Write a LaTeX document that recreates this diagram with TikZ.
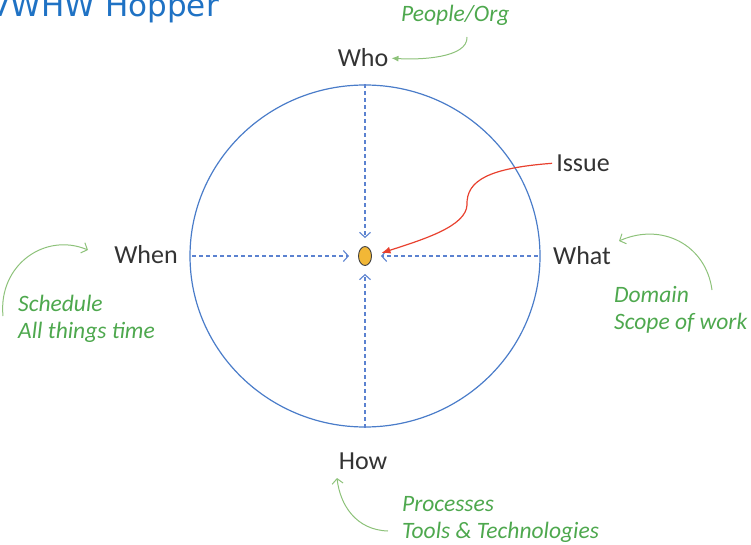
\documentclass[tikz,border=0pt]{standalone}
\usepackage{fontspec}
\setmainfont{Carlito}
\newfontfamily\titlefont{DejaVu Sans}
\usetikzlibrary{arrows.meta,shapes.geometric}

\definecolor{ringblue}{HTML}{4A7CC9}
\definecolor{dashblue}{HTML}{5B82D0}
\definecolor{labelgray}{HTML}{333333}
\definecolor{notegreen}{HTML}{4EA84E}
\definecolor{hintgreen}{HTML}{8DC27A}
\definecolor{issuered}{HTML}{E8402E}
\definecolor{dotfill}{HTML}{F2B736}
\definecolor{titleblue}{HTML}{1F72C4}

\tikzset{
  wlabel/.style={text=labelgray, font=\fontsize{26}{30}\selectfont, inner sep=0pt},
  note/.style={text=notegreen, font=\fontsize{23.5}{27}\selectfont\itshape, align=left, inner sep=0pt, anchor=west},
  probe/.style={dashblue, line width=1.1pt, dash pattern=on 4pt off 3pt, -{Straight Barb[length=5pt,width=11pt]}},
  hint/.style={hintgreen, line width=1pt},
}

\begin{document}
\begin{tikzpicture}[x=1pt,y=-1pt]
\useasboundingbox (0,0) rectangle (751,545);

\node [anchor=base east, inner sep=0pt, text=titleblue, font=\fontsize{31}{34}\titlefont] (title) at (219,17) {VWHW Hopper};

\node [draw=ringblue, line width=1.2pt, ellipse, minimum width=350, minimum height=342, inner sep=0pt] (ring) at (365,256) {};
\node [draw=black!75, line width=0.9pt, fill=dotfill, ellipse, minimum width=13, minimum height=19, inner sep=0pt] (dot) at (365,256) {};

\node [wlabel] (who)   at (363,58)  {Who};
\node [wlabel] (when)  at (146,255) {When};
\node [wlabel] (what)  at (582,256) {What};
\node [wlabel] (how)   at (363,461) {How};
\node [wlabel] (issue) at (583,163) {Issue};

\node [note] (people)  at (401,15)  {People/Org};
\node [note] (sched)   at (18,319)  {Schedule\\All things time};
\node [note] (domain)  at (614,310) {Domain\\Scope of work};
\node [note] (process) at (402,519) {Processes\\Tools \& Technologies};

% dashed probes into the issue
\draw [probe, shorten >=8pt] (ring.north) -- (dot.north);
\draw [probe, shorten >=8pt] (ring.south) -- (dot.south);
\draw [probe, shorten <=3pt, shorten >=9pt] (ring.west) -- (dot.west);
\draw [probe, shorten <=3pt, shorten >=9pt] (ring.east) -- (dot.east);

% issue pointer
\draw [issuered, line width=1.2pt, -{Latex[length=9pt,width=7pt]}, shorten <=4pt, shorten >=10pt]
  (issue.west) .. controls (490,168) and (466,180) .. (467,205)
  .. controls (466,226) and (425,239) .. (dot.east);

% green hints
\coordinate (whotail)  at (467,37);
\coordinate (whentail) at (3,316);
\coordinate (whenhead) at (88,250);
\coordinate (whattail) at (712,290);
\coordinate (whathead) at (619,241);
\coordinate (howtail)  at (388,531);
\coordinate (howhead)  at (337,478);

\draw [hint, -{Latex[length=7pt,width=6pt]}, shorten >=3pt] (whotail) .. controls (468,58) and (420,60) .. (who.east);
\draw [hint, -{Straight Barb[length=5pt,width=11pt]}] (whentail) .. controls (-2,265) and (45,232) .. (whenhead);
\draw [hint, -{Straight Barb[length=5pt,width=11pt]}] (whattail) .. controls (706,245) and (662,222) .. (whathead);
\draw [hint, -{Straight Barb[length=5pt,width=11pt]}] (howtail) .. controls (356,530) and (340,505) .. (howhead);

\end{tikzpicture}
\end{document}
